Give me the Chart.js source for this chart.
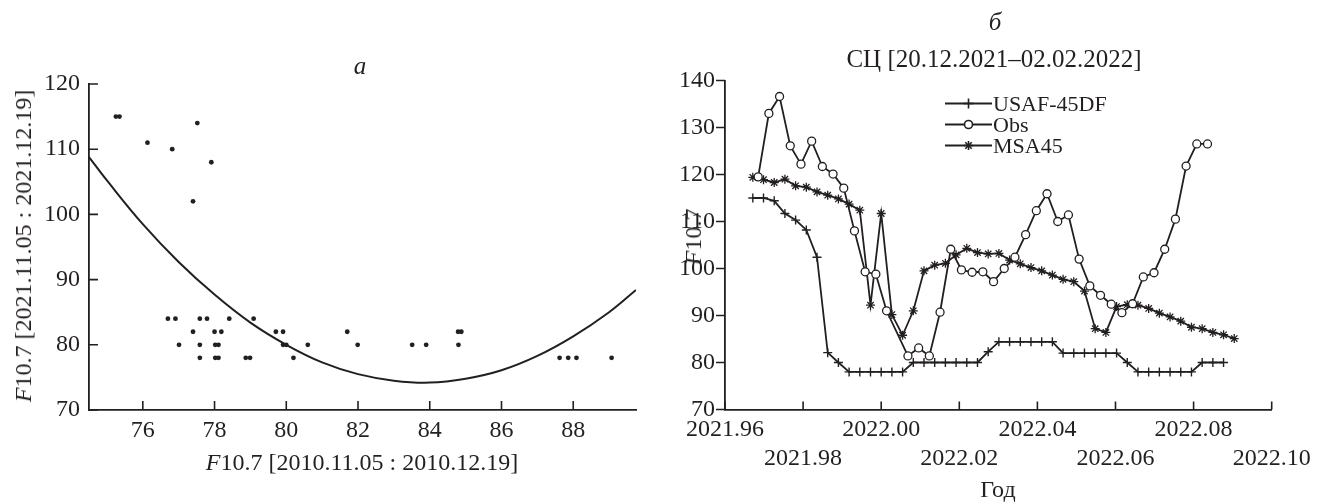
<!DOCTYPE html>
<html>
<head>
<meta charset="utf-8">
<script src="https://cdn.jsdelivr.net/npm/chart.js@4.4.1/dist/chart.umd.min.js"></script>
<style>
  body { margin: 0; background: #fff; width: 1327px; height: 503px; position: relative; overflow: hidden;
         font-family: "Liberation Serif", "Times New Roman", serif; color: #231f20; }
  canvas { position: absolute; top: 0; }
  #chartA { left: 0; }
  #chartB { left: 680px; }
  .lbl { position: absolute; white-space: nowrap; line-height: 1; transform: translate(-50%, -50%); font-size: 24px; }
  .rot { transform: translate(-50%, -50%) rotate(-90deg); }
  #legend { position: absolute; left: 945px; top: 93px; font-size: 22px; }
  #legend .row { height: 21px; display: flex; align-items: center; }
  #legend svg { display: block; margin-right: 1px; }
</style>
</head>
<body>
<canvas id="chartA" width="680" height="503"></canvas>
<canvas id="chartB" width="647" height="503"></canvas>

<div class="lbl" style="left:360px; top:65px; font-size:25px;"><i>а</i></div>
<div class="lbl rot" style="left:23px; top:246px;"><i>F</i>10.7 [2021.11.05 : 2021.12.19]</div>
<div class="lbl" style="left:362px; top:462px;"><i>F</i>10.7 [2010.11.05 : 2010.12.19]</div>

<div class="lbl" style="left:995px; top:21px; font-size:25px;"><i>б</i></div>
<div class="lbl" style="left:994px; top:58px; font-size:25px;">СЦ [20.12.2021–02.02.2022]</div>
<div class="lbl rot" style="left:693px; top:237px;"><i>F</i>10.7</div>
<div class="lbl" style="left:998px; top:489px;">Год</div>
<div id="legend"></div>

<script>
// ---- а: F10.7 2010 vs 2021 ----
const scatterX = [75.25, 75.35, 76.13, 76.82, 77.52, 77.91, 77.40,
                  76.70, 76.91, 77.01, 77.40, 77.59, 77.79, 77.59, 77.59,
                  78.00, 78.19, 78.02, 78.11, 78.02, 78.11, 78.41, 78.87, 78.99, 79.09,
                  79.71, 79.91, 79.91, 80.00, 80.20, 80.60,
                  81.70, 81.99, 83.51, 83.90, 84.79, 84.88, 84.80,
                  87.62, 87.86, 88.09, 89.07];
const scatterY = [115, 115, 111, 110, 114, 108, 102,
                  84, 84, 80, 82, 84, 84, 80, 78,
                  82, 82, 80, 80, 78, 78, 84, 78, 78, 84,
                  82, 82, 80, 80, 78, 80,
                  82, 80, 80, 80, 82, 82, 80,
                  78, 78, 78, 78];
// regression curve
const fitX = [74.5, 75, 76, 77, 78, 79, 80, 81, 82, 83, 84, 85, 86, 87, 88, 89, 89.75];
const fitY = [108.8, 105.2, 98.5, 92.7, 87.7, 83.4, 80.0, 77.3, 75.5, 74.5, 74.2, 74.8, 76.1, 78.3, 81.3, 85.0, 88.4];
const leftXTicks = [76, 78, 80, 82, 84, 86, 88];
const leftYTicks = [70, 80, 90, 100, 110, 120];

// ---- б: solar cycle forecast, 20.12.2021–03.02.2022 ----
const dates = [
  '20.12.2021', '21.12.2021', '22.12.2021', '23.12.2021', '24.12.2021', '25.12.2021',
  '26.12.2021', '27.12.2021', '28.12.2021', '29.12.2021', '30.12.2021', '31.12.2021',
  '01.01.2022', '02.01.2022', '03.01.2022', '04.01.2022', '05.01.2022', '06.01.2022',
  '07.01.2022', '08.01.2022', '09.01.2022', '10.01.2022', '11.01.2022', '12.01.2022',
  '13.01.2022', '14.01.2022', '15.01.2022', '16.01.2022', '17.01.2022', '18.01.2022',
  '19.01.2022', '20.01.2022', '21.01.2022', '22.01.2022', '23.01.2022', '24.01.2022',
  '25.01.2022', '26.01.2022', '27.01.2022', '28.01.2022', '29.01.2022', '30.01.2022',
  '31.01.2022', '01.02.2022', '02.02.2022', '03.02.2022'
];
const usaf = [115, 115, 114.4, 111.7, 110.3, 108.2, 102.4, 82.1, 80, 78,
              78, 78, 78, 78, 78, 80, 80, 80, 80, 80,
              80, 80, 82.3, 84.4, 84.4, 84.4, 84.4, 84.4, 84.4, 82,
              82, 82, 82, 82, 82, 80, 78, 78, 78, 78,
              78, 78, 80, 80, 80];
const obs = [119.5, 133.0, 136.6, 126.1, 122.2, 127.1, 121.7, 120.1, 117.1, 108.0,
             99.3, 98.8, 91.0, null, 81.4, 83.1, 81.4, 90.7, 104.1, 99.7,
             99.2, 99.3, 97.2, 100.0, 102.4, 107.2, 112.3, 115.9, 110.0, 111.4,
             102.0, 96.3, 94.3, 92.4, 90.6, 92.5, 98.2, 99.1, 104.1, 110.5,
             121.8, 126.5, 126.5];
const msa = [119.4, 118.9, 118.3, 119.0, 117.6, 117.3, 116.3, 115.6, 114.8, 113.7,
             112.4, 92.2, 111.7, 90.2, 85.8, 91.0, 99.5, 100.7, 101.1, 102.9,
             104.3, 103.4, 103.1, 103.2, 101.8, 101.0, 100.2, 99.5, 98.6, 97.7,
             97.2, 95.2, 87.2, 86.4, 91.9, 92.3, 92.2, 91.5, 90.5, 89.7,
             88.8, 87.5, 87.2, 86.4, 85.9, 85.1];
const seriesNames = ['USAF-45DF', 'Obs', 'MSA45'];
const rightXTicks = [2021.96, 2021.98, 2022.00, 2022.02, 2022.04, 2022.06, 2022.08, 2022.10];
const rightYTicks = [70, 80, 90, 100, 110, 120, 130, 140];

const INK = '#231f20';
const tickFont = { family: '"Liberation Serif", "Times New Roman", serif', size: 24 };

// dd.mm.yyyy -> decimal year
function toYear(s) {
  const [d, m, y] = s.split('.').map(Number);
  const doy = (Date.UTC(y, m - 1, d) - Date.UTC(y, 0, 1)) / 86400000;
  return y + doy / 365;
}
const years = dates.map(toYear);
const OBS_SHIFT = 0.5 / 365; // observations taken around midday

// small tick marks along the axes; positive length = inward, negative = outward
const tickMarks = {
  id: 'tickMarks',
  afterDraw(chart, args, opts) {
    const ctx = chart.ctx;
    ctx.save();
    ctx.strokeStyle = INK;
    ctx.lineWidth = 1.6;
    ctx.beginPath();
    ['x', 'y'].forEach(id => {
      const s = chart.scales[id];
      const len = opts[id];
      s.ticks.forEach(t => {
        const p = s.getPixelForValue(t.value);
        if (s.isHorizontal()) {
          ctx.moveTo(p, s.top);
          ctx.lineTo(p, s.top - len);
        } else {
          ctx.moveTo(s.right, p);
          ctx.lineTo(s.right + len, p);
        }
      });
    });
    ctx.stroke();
    ctx.restore();
  }
};

function axis(min, max, tickList, fit, extra) {
  return Object.assign({
    type: 'linear',
    min: min,
    max: max,
    afterBuildTicks: s => { s.ticks = tickList.map(v => ({ value: v })); },
    afterFit: fit,
    grid: { display: false, drawTicks: false },
    border: { display: true, color: INK, width: 1.8 },
    ticks: { color: INK, font: tickFont, autoSkip: false, maxRotation: 0, minRotation: 0 }
  }, extra);
}

// chart а
new Chart(document.getElementById('chartA'), {
  type: 'scatter',
  data: {
    datasets: [
      {
        type: 'line',
        data: fitX.map((x, i) => ({ x: x, y: fitY[i] })),
        showLine: true,
        borderColor: INK,
        borderWidth: 2,
        pointRadius: 0,
        tension: 0.4,
        fill: false
      },
      {
        data: scatterX.map((x, i) => ({ x: x, y: scatterY[i] })),
        pointRadius: 2.4,
        backgroundColor: INK,
        borderWidth: 0
      }
    ]
  },
  options: {
    responsive: false,
    animation: false,
    events: [],
    layout: { padding: { left: 0, top: 84, right: 44, bottom: 0 } },
    plugins: { legend: { display: false }, tooltip: { enabled: false }, tickMarks: { x: 9, y: 9 } },
    scales: {
      x: axis(74.5, 89.75, leftXTicks, s => { s.height = 93; },
              { ticks: { color: INK, font: tickFont, padding: 6, autoSkip: false, maxRotation: 0, minRotation: 0 } }),
      y: axis(70, 120, leftYTicks, s => { s.width = 89; },
              { ticks: { color: INK, font: tickFont, padding: 9, autoSkip: false } })
    }
  },
  plugins: [tickMarks]
});

// chart б
new Chart(document.getElementById('chartB'), {
  type: 'line',
  data: {
    datasets: [
      {
        label: seriesNames[0],
        data: usaf.map((v, i) => ({ x: years[i], y: v })),
        borderColor: INK, borderWidth: 1.8,
        pointStyle: 'cross', pointRadius: 4.5, pointBorderWidth: 1.4, pointBorderColor: INK,
        order: 3
      },
      {
        label: seriesNames[1],
        data: obs.map((v, i) => ({ x: years[i] + OBS_SHIFT, y: v })),
        spanGaps: true,
        borderColor: INK, borderWidth: 1.8,
        pointStyle: 'circle', pointRadius: 4, pointBorderWidth: 1.3,
        pointBackgroundColor: '#fff', pointBorderColor: INK,
        order: 1
      },
      {
        label: seriesNames[2],
        data: msa.map((v, i) => ({ x: years[i], y: v })),
        borderColor: INK, borderWidth: 1.8,
        pointStyle: 'star', pointRadius: 4.5, pointBorderWidth: 1.3, pointBorderColor: INK,
        order: 2
      }
    ]
  },
  options: {
    responsive: false,
    animation: false,
    events: [],
    layout: { padding: { left: 0, top: 80.5, right: 55.3, bottom: 0 } },
    plugins: { legend: { display: false }, tooltip: { enabled: false }, tickMarks: { x: 8, y: -9 } },
    scales: {
      x: axis(2021.96, 2022.10, rightXTicks, s => { s.height = 93.5; }, {
        ticks: {
          color: INK, font: Object.assign({ lineHeight: 1.19 }, tickFont), padding: 6,
          autoSkip: false, maxRotation: 0, minRotation: 0,
          // two staggered rows of year labels
          callback: (v, i) => i % 2 === 0 ? [v.toFixed(2), ''] : ['', v.toFixed(2)]
        }
      }),
      y: axis(70, 140, rightYTicks, s => { s.width = 44.3; },
              { ticks: { color: INK, font: tickFont, padding: 10, autoSkip: false } })
    }
  },
  plugins: [tickMarks]
});

// legend for chart б
const legendMarks = [
  '<line x1="18.5" y1="10.5" x2="28.5" y2="10.5"/><line x1="23.5" y1="5.5" x2="23.5" y2="15.5"/>',
  '<circle cx="23.5" cy="10.5" r="4" fill="#fff"/>',
  '<line x1="19" y1="10.5" x2="28" y2="10.5"/><line x1="23.5" y1="6" x2="23.5" y2="15"/>' +
  '<line x1="20.3" y1="7.3" x2="26.7" y2="13.7"/><line x1="20.3" y1="13.7" x2="26.7" y2="7.3"/>'
];
const legend = document.getElementById('legend');
seriesNames.forEach((name, i) => {
  const row = document.createElement('div');
  row.className = 'row';
  row.innerHTML =
    '<svg width="47" height="21" stroke="' + INK + '" stroke-width="1.6" fill="none">' +
    '<line x1="0" y1="10.5" x2="47" y2="10.5" stroke-width="1.8"/>' + legendMarks[i] + '</svg>' +
    '<span>' + name + '</span>';
  legend.appendChild(row);
});
</script>
</body>
</html>
